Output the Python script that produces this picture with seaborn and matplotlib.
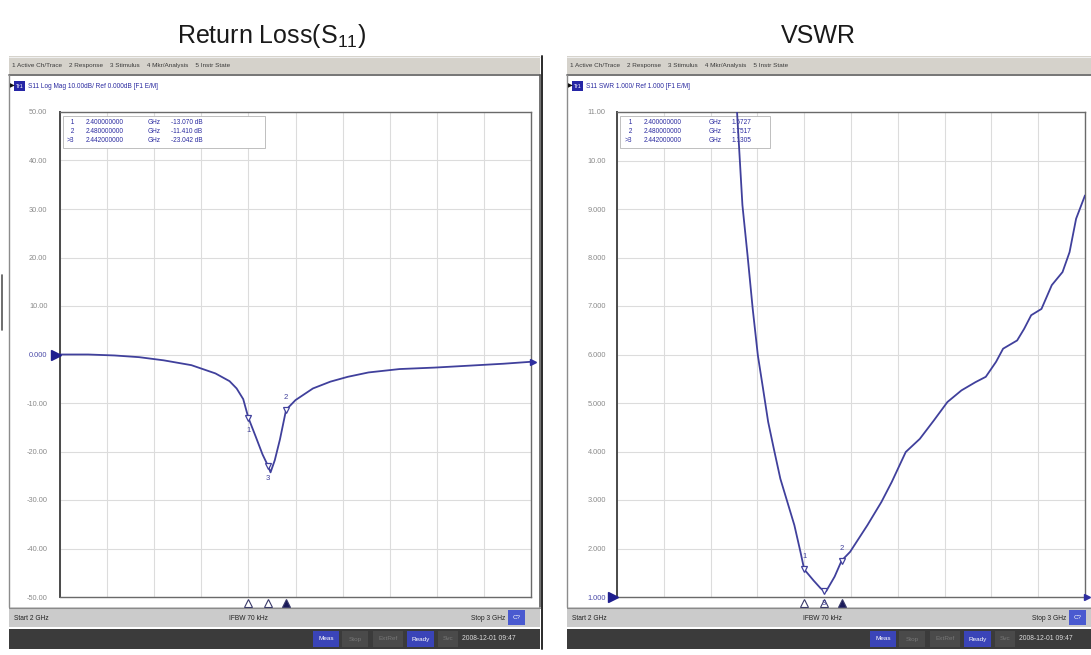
import matplotlib
matplotlib.use("Agg")
import matplotlib.pyplot as plt
import seaborn as sns
from matplotlib.patches import Rectangle
from matplotlib.lines import Line2D
from matplotlib import font_manager

# ---------------- data ----------------
rl_freq_ghz = [2.000, 2.060, 2.116, 2.168, 2.220, 2.279, 2.330, 2.360, 2.375, 2.389,
               2.400, 2.415, 2.430, 2.442, 2.447, 2.456, 2.467, 2.480, 2.500, 2.537,
               2.574, 2.611, 2.655, 2.721, 2.795, 2.869, 2.942, 3.000]
rl_db = [0.00, 0.00, -0.20, -0.55, -1.20, -2.20, -3.90, -5.50, -7.00, -9.20,
         -13.07, -16.80, -20.60, -23.04, -24.30, -21.80, -17.50, -11.41, -9.40, -7.00,
         -5.60, -4.60, -3.70, -3.00, -2.70, -2.30, -1.90, -1.50]

vswr_freq_ghz = [2.250, 2.2565, 2.268, 2.279, 2.290, 2.301, 2.312, 2.323, 2.335, 2.349,
                 2.364, 2.379, 2.392, 2.400, 2.420, 2.435, 2.442, 2.447, 2.465, 2.480,
                 2.498, 2.535, 2.565, 2.587, 2.617, 2.647, 2.677, 2.706, 2.736, 2.766,
                 2.788, 2.810, 2.825, 2.855, 2.870, 2.885, 2.907, 2.929, 2.952, 2.967,
                 2.981, 3.000]
vswr_val = [11.60, 11.00, 9.08, 8.04, 6.94, 5.98, 5.30, 4.61, 4.06, 3.44,
            2.96, 2.48, 1.93, 1.57, 1.34, 1.18, 1.13, 1.12, 1.42, 1.75,
            1.93, 2.48, 2.96, 3.37, 3.99, 4.26, 4.64, 5.02, 5.26, 5.43,
            5.54, 5.85, 6.12, 6.29, 6.53, 6.81, 6.94, 7.43, 7.70, 8.11,
            8.80, 9.28]

marker_ids = ["1", "2", "3"]
marker_freq_ghz = [2.400, 2.480, 2.442]
rl_marker_db = [-13.070, -11.410, -23.042]
vswr_marker_val = [1.5727, 1.7517, 1.1305]

rl_ticks = [50, 40, 30, 20, 10, 0, -10, -20, -30, -40, -50]
rl_tick_labels = ["50.00", "40.00", "30.00", "20.00", "10.00", "0.000",
                  "-10.00", "-20.00", "-30.00", "-40.00", "-50.00"]
vswr_ticks = [11, 10, 9, 8, 7, 6, 5, 4, 3, 2, 1]
vswr_tick_labels = ["11.00", "10.00", "9.000", "8.000", "7.000", "6.000",
                    "5.000", "4.000", "3.000", "2.000", "1.000"]
start_ghz, stop_ghz = 2.0, 3.0
freq_div = [2.0, 2.1, 2.2, 2.3, 2.4, 2.5, 2.6, 2.7, 2.8, 2.9, 3.0]

# ---------------- style ----------------
sns.set_style("white")
plt.rcParams["font.family"] = ["Liberation Sans", "DejaVu Sans"]
plt.rcParams["mathtext.fontset"] = "custom"

names = {f.name for f in font_manager.fontManager.ttflist}
TITLE_FONT = "Liberation Sans Narrow" if "Liberation Sans Narrow" in names else "Liberation Sans"
TITLE_SIZE = 21 if TITLE_FONT == "Liberation Sans Narrow" else 18
plt.rcParams["mathtext.rm"] = TITLE_FONT
plt.rcParams["mathtext.it"] = TITLE_FONT + ":italic"

TRACE = "#40409c"
BLUE = "#2b2ba0"
GRID = "#dcdcdc"

W, H = 1091, 655
fig = plt.figure(figsize=(W / 100, H / 100), dpi=100)
fig.patch.set_facecolor("white")


def R(x0, y0, x1, y1, fc, ec="none", lw=0, z=0):
    fig.add_artist(Rectangle((x0 / W, 1 - y1 / H), (x1 - x0) / W, (y1 - y0) / H,
                             transform=fig.transFigure, fc=fc, ec=ec, lw=lw, zorder=z))


def L(xs, ys, color, lw=1.0, z=1):
    fig.add_artist(Line2D([x / W for x in xs], [1 - y / H for y in ys],
                          transform=fig.transFigure, color=color, lw=lw, zorder=z))


def T(x, y, s, **kw):
    kw.setdefault("va", "center")
    fig.text(x / W, 1 - y / H, s, **kw)


def panel(px0, px1, ax0, ax1, title, title_x, header, readout_vals, readout_x,
          status_x, bar_x):
    # title
    T(title_x, 36, title, ha="center", fontsize=TITLE_SIZE, color="#1a1a1a",
      family=[TITLE_FONT, "DejaVu Sans"])
    # menu bar
    R(px0, 56, px1, 74, "#d5d2cb", z=0)
    L([px0, px1], [56.5, 56.5], "#efefef", 0.8)
    L([px0, px1], [74.5, 74.5], "#6a6a6a", 1.3)
    T(px0 + 3, 65, "1 Active Ch/Trace    2 Response    3 Stimulus    4 Mkr/Analysis    5 Instr State",
      fontsize=4.6, color="#3a3a3a")
    # panel frame
    L([px0, px0], [75, 607], "#8c8c8c", 1.0)
    L([px1, px1], [75, 607], "#5a5a5a", 1.2)
    # header
    T(px0 + 1, 86, "\u25B6", fontsize=4.5, color="#101010")
    R(px0 + 5, 81, px0 + 16, 91, "#2626a6", z=1)
    T(px0 + 10.5, 86, "Tr1", fontsize=3.8, color="white", ha="center")
    T(px0 + 19, 86, header, fontsize=4.7, color=BLUE)
    # status bar
    R(px0, 607, px1, 627, "#cbcbcb", z=0)
    L([px0, px1], [607.5, 607.5], "#8a8a8a", 0.8)
    T(px0 + 5, 618, "Start 2 GHz", fontsize=4.8, color="#222222")
    T(status_x[0], 618, "IFBW 70 kHz", fontsize=4.8, color="#222222", ha="center")
    T(status_x[1], 618, "Stop 3 GHz", fontsize=4.8, color="#222222", ha="right")
    R(status_x[1] + 3, 610, status_x[1] + 20, 625, "#4a5ad0", z=1)
    T(status_x[1] + 11.5, 617.5, "C?", fontsize=4.5, color="white", ha="center")
    # dark status bar
    R(px0, 629, px1, 649, "#3b3b3b", z=0)
    bx = bar_x
    R(bx, 631, bx + 26, 647, "#3a44b8", z=1)
    T(bx + 13, 639, "Meas", fontsize=4.6, color="white", ha="center")
    R(bx + 29, 631, bx + 55, 647, "#4a4a4a", z=1)
    T(bx + 42, 639, "Stop", fontsize=4.6, color="#777777", ha="center")
    R(bx + 60, 631, bx + 90, 647, "#4a4a4a", z=1)
    T(bx + 75, 639, "ExtRef", fontsize=4.6, color="#777777", ha="center")
    R(bx + 94, 631, bx + 121, 647, "#3a44b8", z=1)
    T(bx + 107.5, 639, "Ready", fontsize=4.6, color="white", ha="center")
    R(bx + 125, 631, bx + 145, 647, "#4a4a4a", z=1)
    T(bx + 135, 639, "Svc", fontsize=4.6, color="#777777", ha="center")
    T(bx + 149, 639, "2008-12-01 09:47", fontsize=4.9, color="#dddddd")

    ax = fig.add_axes([ax0 / W, 1 - 597 / H, (ax1 - ax0) / W, 485 / H])
    ax.set_facecolor("white")
    for s in ax.spines.values():
        s.set_color("#6a6a6a")
        s.set_linewidth(1.0)
    ax.spines["left"].set_linewidth(1.4)
    ax.spines["left"].set_color("#4a4a4a")
    # readout box
    rx = readout_x
    ax.add_patch(Rectangle((0.006, 0.926), rx[4], 0.066, transform=ax.transAxes,
                           fc="white", ec="#b4b4b4", lw=0.6, zorder=1))
    for i, (mid, f, v) in enumerate(zip(marker_ids, marker_freq_ghz, readout_vals)):
        yy = 0.978 - i * 0.0185
        lab = (">" if mid == "3" else " ") + mid
        ax.text(rx[0], yy, lab, transform=ax.transAxes, fontsize=4.7, color=BLUE,
                va="center", ha="right", zorder=2)
        ax.text(rx[1], yy, f"{f:.9f}", transform=ax.transAxes, fontsize=4.7,
                color=BLUE, va="center", zorder=2)
        ax.text(rx[2], yy, "GHz", transform=ax.transAxes, fontsize=4.7, color=BLUE,
                va="center", zorder=2)
        ax.text(rx[3], yy, v, transform=ax.transAxes, fontsize=4.7, color=BLUE,
                va="center", zorder=2)
    return ax


# ---------------- left: return loss ----------------
axL = panel(9, 540, 60, 531, "Return Loss(S$_{11}$)", 272,
            "S11 Log Mag 10.00dB/ Ref 0.000dB [F1 E/M]",
            [f"{v:.3f} dB" for v in rl_marker_db], [0.030, 0.055, 0.185, 0.235, 0.43],
            (248, 505), 313)
sns.lineplot(x=rl_freq_ghz, y=rl_db, ax=axL, color=TRACE, lw=1.3, zorder=3,
             estimator=None, sort=False)
axL.set_xlim(start_ghz, stop_ghz)
axL.set_ylim(rl_ticks[-1], rl_ticks[0])
axL.set_yticks(rl_ticks)
axL.set_yticklabels(rl_tick_labels, fontsize=5.3, color="#8a8a8a")
axL.get_yticklabels()[5].set_color("#4a4aa8")
axL.set_xticks(freq_div)
axL.set_xticklabels([])
axL.tick_params(axis="both", length=0)
axL.tick_params(axis="y", pad=9)
axL.grid(True, color=GRID, lw=0.8)
axL.set_axisbelow(True)

# ---------------- right: VSWR ----------------
axR = panel(567, 1102, 617, 1085, "VSWR", 818,
            "S11 SWR 1.000/ Ref 1.000 [F1 E/M]",
            [f"{v:.4f}" for v in vswr_marker_val], [0.032, 0.058, 0.195, 0.245, 0.32],
            (822, 1066), 870)
sns.lineplot(x=vswr_freq_ghz, y=vswr_val, ax=axR, color=TRACE, lw=1.3, zorder=3,
             estimator=None, sort=False)
axR.set_xlim(start_ghz, stop_ghz)
axR.set_ylim(vswr_ticks[-1], vswr_ticks[0])
axR.set_yticks(vswr_ticks)
axR.set_yticklabels(vswr_tick_labels, fontsize=5.3, color="#8a8a8a")
axR.get_yticklabels()[-1].set_color("#4a4aa8")
axR.set_xticks(freq_div)
axR.set_xticklabels([])
axR.tick_params(axis="both", length=0)
axR.tick_params(axis="y", pad=8)
axR.grid(True, color=GRID, lw=0.8)
axR.set_axisbelow(True)

# ---------------- markers ----------------
def draw_markers(ax, vals, offsets, ref_val, end_val):
    for mid, f, v, off in zip(marker_ids, marker_freq_ghz, vals, offsets):
        ax.plot([f], [v], marker="v", ms=4.5, mfc="white", mec=TRACE, mew=0.9,
                zorder=4, clip_on=False)
        ax.annotate(mid, (f, v), xytext=(0, off), textcoords="offset points",
                    ha="center", va="center", fontsize=5.5, color=TRACE, zorder=5)
    # bottom triangles
    trans = ax.get_xaxis_transform()
    for mid, f in zip(marker_ids, marker_freq_ghz):
        filled = mid == "2"
        ax.plot([f], [-0.012], marker="^", ms=5.5, transform=trans, clip_on=False,
                mfc=("#1a1a5a" if filled else "white"), mec="#3a3a6a", mew=0.8)
    # reference level arrow
    ax.plot([-0.009], [ref_val], marker=">", ms=7, color="#1f1f8f",
            transform=ax.get_yaxis_transform(), clip_on=False, zorder=5)
    ax.plot([1.004], [end_val], marker=">", ms=5, color="#2f2fa0",
            transform=ax.get_yaxis_transform(), clip_on=False, zorder=5)


draw_markers(axL, rl_marker_db, [-9, 9, -9], rl_ticks[5], rl_db[-1])
draw_markers(axR, vswr_marker_val, [9, 9, -9], vswr_ticks[-1], vswr_ticks[-1])

# outer frame bits
L([541.5, 541.5], [56, 649], "#2a2a2a", 1.4)
L([2, 2], [275, 330], "#555555", 1.2)

fig.savefig("out.png", dpi=100)
